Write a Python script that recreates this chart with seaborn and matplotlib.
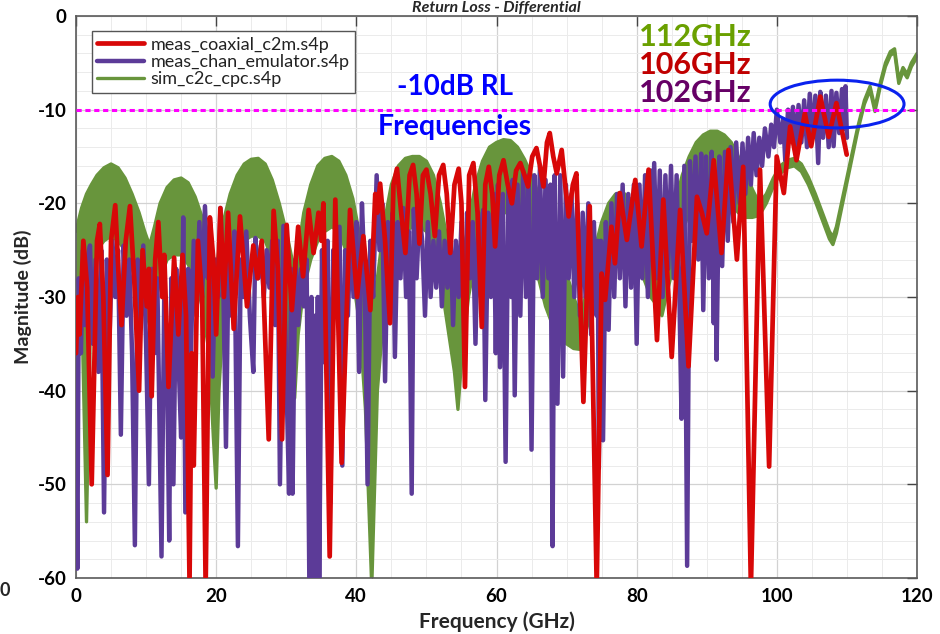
import matplotlib
matplotlib.use("Agg")
import matplotlib.pyplot as plt
import seaborn as sns
import numpy as np
from matplotlib.patches import Ellipse

# ---------------- data ----------------
red_freq = [0.0, 0.3, 0.5, 1.05, 1.6, 2.24, 3.0, 3.4, 3.9, 4.5,
            5.0, 5.6, 6.1, 6.5, 7.1, 7.7, 8.3, 9.0, 9.5, 10.1,
            10.4, 10.8, 11.3, 11.75, 12.3, 12.6, 13.2, 14.0, 14.6, 15.2,
            15.7, 16.2, 16.5, 16.8, 17.4, 18.0, 18.5, 19.1, 19.6, 20.0,
            20.6, 21.1, 21.7, 22.5, 23.4, 24.4, 25.3, 25.9, 26.5, 27.5,
            28.2, 28.8, 29.4, 30.06, 30.8, 31.7, 32.4, 33.2, 33.9, 34.6,
            35.0, 35.3, 36.2, 37.0, 37.9, 39.1, 40.1, 41.0, 42.0, 42.7,
            43.0, 43.4, 44.1, 44.8, 45.3, 45.8, 46.4, 47.0, 47.6, 48.1,
            48.6, 49.0, 49.5, 50.0, 50.6, 51.2, 51.8, 52.4, 52.9, 53.4,
            54.0, 54.6, 55.0, 55.5, 56.1, 56.7, 57.3, 57.9, 58.4, 58.9,
            59.4, 59.8, 60.4, 61.0, 61.6, 62.2, 62.8, 63.4, 64.0, 64.5,
            65.1, 65.7, 66.2, 66.7, 67.2, 67.6, 68.1, 68.6, 69.3, 69.8,
            70.3, 70.9, 71.4, 72.4, 73.3, 74.3, 75.0, 75.5, 76.4, 76.9,
            77.6, 78.6, 79.8, 80.7, 81.7, 82.9, 83.8, 85.0, 86.2, 87.4,
            88.6, 89.3, 90.0, 91.0, 92.1, 93.1, 94.3, 95.2, 96.3, 97.6,
            98.9, 99.98, 101.0, 101.9, 102.8, 104.0, 104.9, 106.2, 107.4, 108.5,
            109.97]
red_db = [-36, -30, -34, -24, -29, -50, -24, -22.2, -30, -49,
          -24, -20.2, -28, -33, -24, -20.3, -28, -40, -25, -31,
          -27, -40.6, -26, -22, -30, -25.5, -39.6, -25.8, -34, -25.5,
          -32, -60.5, -36, -48, -24, -30, -61, -21.5, -26, -34,
          -20.5, -30, -21, -33.4, -21.4, -31, -24.5, -28, -24, -45.2,
          -20.8, -27, -45.2, -22.3, -31.4, -22.5, -27.8, -20.7, -25.3, -21,
          -24, -20.0, -57.7, -19.6, -47.7, -20.7, -30, -23.5, -31.4, -19,
          -21, -17.9, -24, -32.8, -18, -16.3, -21, -25.3, -17, -15.9,
          -19, -24.3, -17, -16.4, -19, -23.5, -17, -15.9, -19, -25.3,
          -18, -16.3, -20, -39.6, -17, -15.7, -21, -33.2, -18, -16.1,
          -19, -24.6, -17, -15.4, -18, -20, -16.5, -15.7, -17, -18.2,
          -15, -14.1, -16, -18.2, -13.5, -12.5, -15, -16.8, -14.3, -18,
          -21.4, -18, -16.8, -41.2, -20.3, -61, -27.5, -30.3, -22.5, -26.4,
          -18.9, -23.9, -17.5, -24.6, -16.4, -34.6, -19.6, -36.4, -20.7, -37.4,
          -19.3, -21, -23.2, -15.4, -25.3, -14.3, -26.0, -16.1, -61, -16.4,
          -48.1, -15.0, -18.9, -11.8, -15.4, -10.4, -13.9, -8.6, -12.9, -9.3,
          -14.8]

purple_freq = [0.0, 0.19, 0.4, 0.7, 1.0, 1.3, 1.6, 2.0, 2.4, 2.8,
               3.2, 3.6, 4.0, 4.4, 4.8, 5.2, 5.6, 6.0, 6.4, 6.8,
               7.2, 7.6, 8.0, 8.4, 8.8, 9.2, 9.6, 10.0, 10.4, 10.8,
               11.2, 11.6, 12.2, 12.6, 13.0, 13.3, 13.6, 13.9, 14.3, 14.6,
               15.0, 15.3, 15.6, 16.0, 16.4, 16.8, 17.2, 17.6, 18.0, 18.4,
               18.8, 19.2, 19.5, 19.9, 20.3, 20.6, 21.0, 21.4, 21.8, 22.2,
               22.6, 23.1, 23.5, 23.9, 24.3, 24.8, 25.3, 25.6, 26.0, 26.4,
               26.8, 27.2, 27.6, 28.0, 28.4, 28.8, 29.1, 29.6, 30.0, 30.4,
               30.7, 30.9, 31.3, 31.7, 32.1, 32.5, 32.9, 33.3, 33.6, 33.8,
               34.1, 34.3, 34.5, 34.7, 35.1, 35.5, 35.9, 36.3, 36.7, 37.1,
               37.6, 38.0, 38.4, 38.8, 39.2, 39.6, 40.0, 40.4, 40.8, 41.2,
               41.6, 42.0, 42.4, 42.9, 43.3, 43.7, 44.1, 44.5, 44.9, 45.2,
               45.5, 45.9, 46.3, 46.7, 47.1, 47.5, 47.9, 48.2, 48.6, 49.0,
               49.4, 49.8, 50.2, 50.6, 51.0, 51.4, 51.8, 52.2, 52.6, 53.0,
               53.4, 53.8, 54.2, 54.6, 55.0, 55.4, 55.8, 56.2, 56.6, 57.0,
               57.4, 57.8, 58.1, 58.4, 58.8, 59.2, 59.6, 59.9, 60.2, 60.5,
               60.9, 61.3, 61.7, 62.1, 62.3, 62.6, 63.0, 63.4, 63.8, 64.2,
               64.6, 65.0, 65.4, 65.8, 66.2, 66.6, 67.0, 67.4, 67.7, 68.0,
               68.3, 68.7, 69.1, 69.5, 69.9, 70.3, 70.7, 71.1, 71.5, 71.9,
               72.3, 72.7, 73.1, 73.5, 73.9, 74.3, 74.45, 74.6, 74.9, 75.2,
               75.6, 76.0, 76.4, 76.8, 77.2, 77.6, 78.0, 78.4, 78.8, 79.2,
               79.6, 80.0, 80.4, 80.8, 81.2, 81.6, 82.0, 82.2, 82.5, 82.9,
               83.3, 83.7, 84.1, 84.5, 84.9, 85.3, 85.7, 86.1, 86.4, 86.8,
               87.2, 87.6, 88.0, 88.4, 88.8, 89.2, 89.5, 89.9, 90.3, 90.7,
               91.0, 91.2, 91.4, 91.8, 92.2, 92.6, 93.0, 93.4, 93.8, 94.2,
               94.7, 95.1, 95.5, 95.9, 96.3, 96.7, 97.1, 97.5, 97.9, 98.3,
               98.8, 99.2, 99.6, 100.0, 100.5, 100.9, 101.2, 101.6, 101.9, 102.3,
               102.7, 103.1, 103.5, 103.9, 104.3, 104.7, 105.1, 105.5, 105.9, 106.2,
               106.6, 107.0, 107.4, 107.8, 108.1, 108.5, 108.9, 109.3, 109.6, 109.8,
               110.0]
purple_db = [-40, -59, -28, -36, -25, -33, -26, -24.5, -35, -26,
             -38, -25, -53, -26, -34, -24, -30, -25, -44.7, -24.5,
             -32, -26, -36, -56.5, -26, -33, -24.5, -35, -50, -27,
             -36, -28, -57.7, -29, -38, -56, -28, -50, -27, -36,
             -45, -21.5, -53, -27, -36, -24, -32, -22, -30, -20.3,
             -28, -24, -38.5, -26, -30, -20.5, -28, -46, -24, -32,
             -23, -56.6, -26, -30, -23, -32, -38, -23.7, -28, -24.5,
             -30, -25, -29, -24, -33, -24, -50, -22.4, -38, -51,
             -27, -51, -26, -33, -27, -31, -26, -61, -30, -61,
             -32, -61, -30, -61, -25, -37, -24, -52, -25, -32,
             -22.5, -48, -25, -32, -23, -30, -22, -38, -20, -28,
             -50, -24, -30, -17, -25, -20, -39, -22, -30, -21,
             -36.4, -22, -28, -20.5, -30, -23, -51, -20.6, -28, -21,
             -24, -32, -22, -30, -24, -29, -23, -31, -24, -29,
             -22, -33, -24, -30, -22, -34, -21, -28, -22, -35,
             -21, -30, -20.7, -41, -21, -30, -19, -36, -18, -37.5,
             -19, -47.6, -18, -30, -17.5, -40.5, -18, -32, -16.5, -30,
             -17, -46.3, -17, -28, -16, -30, -17.5, -28, -18, -56.6,
             -17, -41.4, -17, -38.5, -18, -28, -19, -30, -20, -32,
             -21, -30, -20, -34, -22, -32, -24, -48.3, -24, -45.3,
             -22, -33.5, -20, -30, -19, -28, -18, -31, -19, -29,
             -18, -35, -18, -28, -17, -30, -16.5, -26, -15.7, -28,
             -16.5, -30, -17, -27, -16, -28, -17, -30, -43, -16,
             -58.7, -15.5, -24, -15, -26, -14.7, -31.4, -15, -28, -14.5,
             -32.8, -18, -36.7, -15, -26.7, -14.5, -24, -14, -22, -13.5,
             -20, -13.6, -19, -13, -18, -12.5, -17, -13, -16, -12,
             -15, -11.6, -14, -10, -13.5, -11, -15.4, -10, -13, -9.7,
             -14, -9.5, -13.5, -9, -14, -8.3, -13, -8.5, -15.7, -8.1,
             -13, -8.5, -14, -8, -13.9, -8.2, -12.5, -7.8, -12, -7.5,
             -13]

green_freq = [0, 0.3, 0.8, 1.5, 2.2, 3, 4, 5, 6, 7,
              8, 9, 9.8, 10.5, 11.2, 12, 13, 14, 15, 16,
              17, 18, 19, 19.6, 20, 20.4, 21, 22, 23, 24,
              25, 26, 27, 28, 29, 30, 30.7, 31.2, 31.7, 32.5,
              33.5, 34.5, 35.5, 36.5, 37.5, 38.5, 39.5, 40.5, 41.3, 42.2,
              43, 44, 45, 46, 47, 48, 49, 50, 51, 52,
              53, 54, 54.5, 55, 56, 57, 58, 59, 60, 61,
              62, 63, 64, 65, 66, 67, 68, 69, 70, 71,
              72, 73, 74, 75, 76, 77, 78, 79, 80, 81,
              82, 83, 83.6, 84.5, 85.5, 86.5, 87.5, 88.5, 89.5, 90.5,
              91.5, 92.5, 93.5, 94.5, 95.5, 96.5, 97.5, 98.5, 99.5, 100.5,
              101.5, 102.5, 103.5, 104.5, 105.5, 106.5, 107.5, 108, 108.5, 109.5,
              110.5, 111.5, 112.5, 113.3, 114, 114.8, 115.5, 116.2, 116.8, 117.4,
              118, 118.6, 119.2, 120]
green_upper = [-23, -22, -20.5, -19, -18, -17, -16.2, -15.8, -16.2, -17.3,
               -19, -21, -23, -24.5, -22.5, -20, -18.3, -17.5, -17.3, -17.8,
               -19.3, -21.5, -24.5, -26, -27, -25, -22, -19, -17, -15.8,
               -15.3, -15.2, -15.8, -17.5, -20, -23, -25.5, -27, -25, -21,
               -18, -16, -15.2, -15.0, -15.5, -17, -19.5, -23.5, -28, -31,
               -28, -22, -18, -16, -15.2, -15.0, -15.0, -15.5, -17, -20,
               -24, -28, -30, -27, -22, -18, -15.5, -14, -13.5, -13.2,
               -13.3, -14, -15.3, -17, -19, -21.5, -23.5, -25.5, -27.5, -30,
               -32, -29, -25, -22, -20, -19, -18.8, -19.5, -21, -23,
               -25, -26.5, -27, -24, -20, -17, -15, -13.5, -12.7, -12.3,
               -12.3, -12.7, -13.5, -15, -16.5, -18.5, -20, -19, -17.3, -16,
               -15.4, -15.2, -15.8, -17.2, -19, -21, -23, -23.6, -22.5, -19,
               -15.5, -12, -9, -7.5, -9.8, -7, -5, -3.8, -3.5, -6.8,
               -5.5, -6.2, -5, -4]
green_lower = [-42, -36, -30, -54, -28, -25, -24, -23.5, -24, -25,
               -27, -29, -31, -33, -31, -28, -26, -25.5, -25.5, -26.5,
               -28, -31, -36, -45, -50.4, -40, -32, -28, -25.5, -24,
               -23.5, -23.5, -24, -26, -29, -33, -37, -40.8, -34, -29,
               -26, -24, -23, -22.5, -23, -25, -28, -33, -42, -61,
               -40, -31, -26, -24, -23, -22.5, -22.5, -23, -25, -28,
               -33, -38, -42, -37, -30, -26, -23.5, -22, -21, -21,
               -21, -22, -23.5, -25.5, -28, -31, -33, -34, -35, -35.5,
               -35.6, -33, -29, -26, -24, -23.5, -23.5, -24.5, -26, -28,
               -30, -31, -32, -29, -26, -23, -21, -20, -19, -18.5,
               -18.5, -19, -20, -21, -21.5, -21.5, -21.3, -20, -18.2, -16.8,
               -16.2, -16.0, -16.6, -18.0, -19.8, -21.8, -23.8, -24.4, -23.2, -19.6,
               -16.0, -12.4, -9.4, -7.9, -10.2, -7.4, -5.4, -4.2, -3.9, -7.2,
               -5.9, -6.6, -5.4, -4.4]

series_labels = ["meas_coaxial_c2m.s4p", "meas_chan_emulator.s4p", "sim_c2c_cpc.s4p"]
x_ticks = [0, 20, 40, 60, 80, 100, 120]
y_ticks = [0, -10, -20, -30, -40, -50, -60]
rl_level = -10
freq_notes = ["112GHz", "106GHz", "102GHz"]

assert len(red_freq) == len(red_db)
assert len(purple_freq) == len(purple_db)
assert len(green_freq) == len(green_upper) == len(green_lower)

# ---------------- styling ----------------
RED = "#D80808"
PURPLE = "#5C3B98"
GREEN = "#68953C"

sns.set_style("white")
plt.rcParams["font.family"] = ["Lato", "DejaVu Sans"]
plt.rcParams["axes.unicode_minus"] = False

fig = plt.figure(figsize=(9.4, 6.34), dpi=100)
W, H = 940, 634
ax = fig.add_axes([76 / W, 1 - 578 / H, 841 / W, 562 / H])

# green simulated curve: dense ripple shown as a filled band
ax.fill_between(green_freq, green_lower, green_upper, color=GREEN, lw=0, zorder=2)
sns.lineplot(x=green_freq, y=green_upper, ax=ax, color=GREEN, lw=2.4,
             estimator=None, sort=False, label=series_labels[2], zorder=2)
sns.lineplot(x=green_freq, y=green_lower, ax=ax, color=GREEN, lw=2.4,
             estimator=None, sort=False, label="_nolegend_", zorder=2)
sns.lineplot(x=purple_freq, y=purple_db, ax=ax, color=PURPLE, lw=3.2,
             estimator=None, sort=False, label=series_labels[1], zorder=3)
sns.lineplot(x=red_freq, y=red_db, ax=ax, color=RED, lw=3.4,
             estimator=None, sort=False, label=series_labels[0], zorder=4)

ax.axhline(rl_level, color="#FF00FF", lw=2.2, ls=(0, (1.7, 1.2)), zorder=5)
ax.add_patch(Ellipse((108.6, -9.4), 19.1, 5.1, fill=False, ec="#0A22EE", lw=2.2, zorder=6))

ax.set_xlim(0, 120)
ax.set_ylim(-60, 0)
ax.set_xticks(x_ticks)
ax.set_yticks(y_ticks)
ax.set_xticks(np.arange(0, 121, 5), minor=True)
ax.set_yticks(np.arange(-60, 1, 2), minor=True)
ax.grid(which="major", color="#d2d2d2", lw=0.9)
ax.grid(which="minor", color="#ebebeb", lw=0.7)
ax.set_axisbelow(True)
ax.tick_params(which="major", direction="in", length=7, width=1.0, color="#444444",
               top=True, right=True, labelsize=13.5, pad=7, labelcolor="black")
ax.tick_params(which="minor", length=0)
for lab in ax.get_xticklabels() + ax.get_yticklabels():
    lab.set_fontweight("bold")
for sp in ax.spines.values():
    sp.set_color("#5a5a5a")
    sp.set_linewidth(1.2)

ax.set_xlabel("Frequency (GHz)", fontsize=15, fontweight="bold", labelpad=5)
ax.set_ylabel("Magnitude (dB)", fontsize=14, fontweight="bold", labelpad=4)

handles, labels = ax.get_legend_handles_labels()
hmap = dict(zip(labels, handles))
leg = ax.legend([hmap[l] for l in series_labels], series_labels, loc="upper left",
                bbox_to_anchor=(0.019, 0.973), fontsize=13, frameon=True, fancybox=False,
                framealpha=1, edgecolor="#555555", handlelength=2.6, handletextpad=0.35,
                labelspacing=0.08, borderpad=0.3, borderaxespad=0)
leg.get_frame().set_linewidth(1.0)
for t in leg.get_texts():
    t.set_color("#222222")
leg.set_zorder(10)

ax.text(54.1, -7.6, "-10dB RL", color="#0000FF", fontsize=20, fontweight="bold",
        ha="center", va="center", zorder=7)
ax.text(54.1, -11.85, "Frequencies", color="#0000FF", fontsize=20.5, fontweight="bold",
        ha="center", va="center", zorder=7)
note_colors = ["#6AA000", "#C00000", "#660066"]
note_y = [-2.24, -5.23, -8.2]
for txt, c, yy in zip(freq_notes, note_colors, note_y):
    ax.text(88.3, yy, txt, color=c, fontsize=22, fontweight="bold",
            ha="center", va="center", zorder=7)

fig.text(496.5 / W, 1 - 1 / H, "Return Loss - Differential", ha="center", va="top",
         fontsize=11.5, fontweight="bold", style="italic")
fig.text(5 / W, 1 - 590 / H, "0", ha="center", va="center", fontsize=13, fontweight="bold")

fig.savefig("out.png", dpi=100)
